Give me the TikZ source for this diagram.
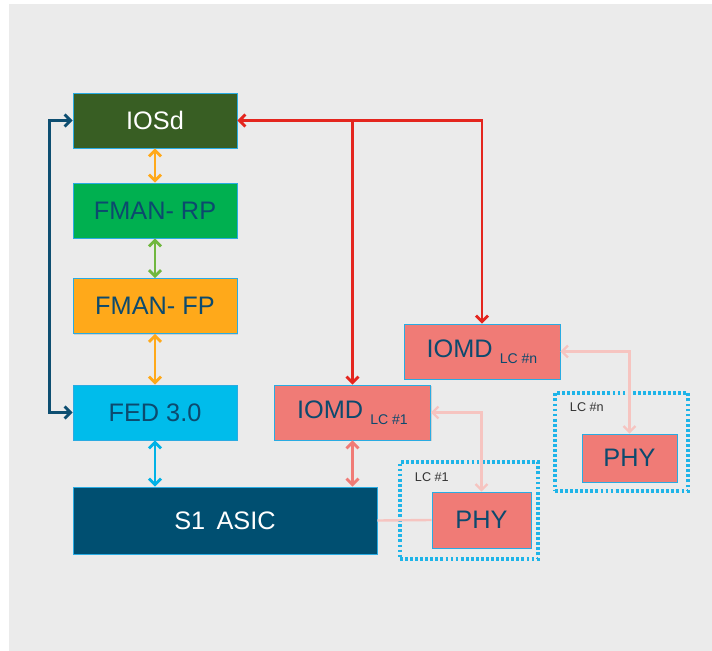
\documentclass[tikz,border=0pt]{standalone}
\usepackage{fontspec}
\setmainfont{Liberation Sans}
\usepackage{tikz}
\usetikzlibrary{arrows.meta,calc,positioning,shadows}

\definecolor{bggray}{RGB}{235,235,235}
\definecolor{iosdgreen}{RGB}{56,94,35}
\definecolor{rpgreen}{RGB}{0,176,80}
\definecolor{fporange}{RGB}{255,169,26}
\definecolor{fedcyan}{RGB}{0,188,235}
\definecolor{asicblue}{RGB}{0,79,113}
\definecolor{iomdsalmon}{RGB}{240,123,118}
\definecolor{textblue}{RGB}{12,74,110}
\definecolor{boxedge}{RGB}{41,171,226}
\definecolor{redline}{RGB}{228,37,30}
\definecolor{loopblue}{RGB}{13,78,113}
\definecolor{arrgreen}{RGB}{112,183,63}
\definecolor{arrcyan}{RGB}{0,178,230}
\definecolor{lightpink}{RGB}{246,196,192}
\definecolor{dotcyan}{RGB}{30,180,232}

\newcommand{\lcsub}[1]{\raisebox{-0.45ex}{\fontsize{10}{12}\selectfont #1}}

\begin{document}
\begin{tikzpicture}[x=0.025cm,y=-0.025cm,
    >={Straight Barb[length=4.2pt,width=8.5pt]},
    block/.style={draw=boxedge,line width=0.5pt,text=textblue,
      font=\fontsize{18}{21}\selectfont,inner sep=0pt,
      drop shadow={opacity=0.25,shadow xshift=0.7pt,shadow yshift=-0.9pt}},
    stackbox/.style={block,minimum width=4.1cm,minimum height=1.375cm},
    iomdbox/.style={block,fill=iomdsalmon,minimum width=3.9cm,minimum height=1.375cm},
    lcbox/.style={draw=dotcyan,line width=2.3pt,dash pattern=on 2pt off 1.6pt},
    lclabel/.style={font=\fontsize{9}{11}\selectfont,text=black!80,anchor=west},
    link/.style={<->,line width=2.1pt},
    softlink/.style={line width=1.7pt,draw=lightpink}]
  \useasboundingbox (0,0) rectangle (712,651);
  \fill[bggray] (9,4) rectangle (712,651);

  % left stack
  \node[stackbox,fill=iosdgreen,text=white] (iosd) at (155,120.5) {IOSd};
  \node[stackbox,fill=rpgreen] (fmanrp) at (155,210.5) {FMAN- RP};
  \node[stackbox,fill=fporange] (fmanfp) at (155,306) {FMAN- FP};
  \node[stackbox,fill=fedcyan] (fed) at (155,412.5) {FED 3.0};
  \node[block,fill=asicblue,text=white,minimum width=7.6cm,minimum height=1.675cm]
    (asic) at (225,520.5) {S1\hspace{0.45em}ASIC};

  % line cards
  \node[lcbox,minimum width=3.45cm,minimum height=2.425cm] (lca) at (469,510.5) {};
  \node[lcbox,minimum width=3.325cm,minimum height=2.45cm] (lcn) at (621.5,442) {};
  \node[lclabel] (lcatext) at (410,477) {LC \#1};
  \node[lclabel] (lcntext) at (565,407) {LC \#n};

  \node[iomdbox] (iomda) at (352.5,412.5) {IOMD \lcsub{LC \#1}};
  \node[iomdbox] (iomdn) at (482,351.5) {IOMD \lcsub{LC \#n}};
  \node[block,fill=iomdsalmon,minimum width=2.475cm,minimum height=1.4cm]
    (phya) at (481.5,520) {PHY};
  \node[block,fill=iomdsalmon,minimum width=2.375cm,minimum height=1.2cm]
    (phyn) at (629.5,458) {PHY};

  % stack links
  \draw[link,fporange] (iosd) -- (fmanrp);
  \draw[link,arrgreen] (fmanrp) -- (fmanfp);
  \draw[link,fporange] (fmanfp) -- (fed);
  \draw[link,arrcyan] (fed.south) -- (fed.south |- asic.north);
  \draw[link,iomdsalmon] (iomda.south) -- (iomda.south |- asic.north);
  \draw[link,loopblue] (fed.west) -- ++(-23,0) |- (iosd.west);

  % red control links
  \coordinate (redsplit) at (iomda.north |- iosd.east);
  \draw[link,redline] (iosd.east) -| (iomdn.north);
  \draw[->,line width=2.1pt,redline] (redsplit) -- (iomda.north);

  % pink phy links
  \draw[softlink,<->] (iomda.east) -| (phya.north);
  \draw[softlink,<->] (iomdn.east) -| (phyn.north);
  \draw[softlink] (asic.east) -- (phya.west);
\end{tikzpicture}
\end{document}
